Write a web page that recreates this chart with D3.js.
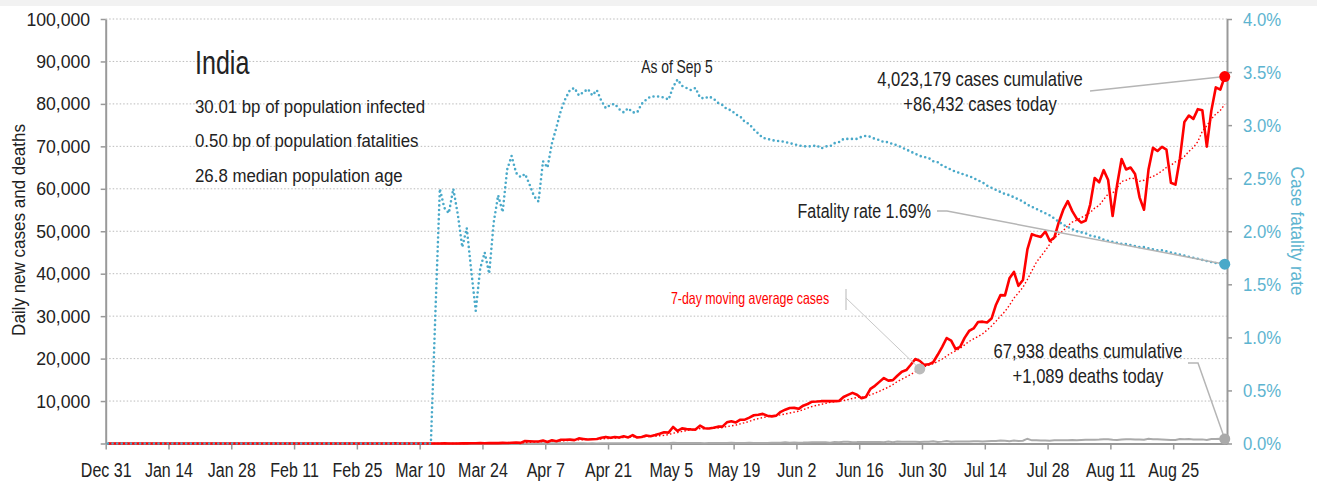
<!DOCTYPE html>
<html>
<head>
<meta charset="utf-8">
<script src="https://cdn.jsdelivr.net/npm/d3@7"></script>
<style>
  body { margin: 0; background: #fff; }
  svg text { font-family: "Liberation Sans", Arial, sans-serif; }
</style>
</head>
<body>
<svg id="chart"></svg>
<script>
// daily series, one value per day starting Dec 31 2019, ending Sep 5 2020
const startDay = "2019-12-31";

const cases = [
  0,
  // Jan
  0,0,0,0,0,0,0,0,0,0, 0,0,0,0,0,0,0,0,0,0, 0,0,0,0,0,0,0,0,0,1, 0,
  // Feb
  0,1,1,0,0,0,0,0,0,0, 0,0,0,0,0,0,0,0,0,0, 0,0,0,0,0,0,0,0,0,
  // Mar
  0,2,1,22,2,1,3,5,9,15, 8,10,13,8,23,8,15,14,28,22, 76,74,86,75,99,88,88,149,106,165, 227,
  // Apr
  146,601,545,478,472,693,354,773,549,896, 896,909,796,1211,1076,941,1007,1076,1334,1553,
  1336,1540,1409,1684,1429,1990,1396,1543,1897,1718,
  // May
  1993,2293,2644,2553,3900,2958,3561,3390,3320,3277, 4213,3604,3525,3722,3967,3970,4987,5242,4970,5611,
  5609,6088,6654,6767,6977,6535,6387,6566,7466,7964, 8380,
  // Jun
  8392,8171,8909,9304,9851,9887,9971,9983,9987,9985, 9996,10956,11458,11929,11502,10667,10974,12881,13586,14516,
  15413,14821,14933,15968,16922,17296,18552,19906,19459,18522,
  // Jul
  18653,19148,20903,22771,24850,24248,22252,22752,24879,26506, 27114,28637,28701,28498,29429,32695,34956,34884,38902,40425,
  37148,38500,45720,49310,48916,48661,49931,47703,48513,52123, 55079,
  // Aug
  57118,54735,52972,52050,52509,56282,62538,61537,64399,62064, 53601,60963,66999,64553,65002,63490,57982,55079,64531,69652,
  68898,69878,69239,61408,60975,67151,75760,77266,76472,78761, 78512,
  // Sep
  69921,78357,83883,83341,86432
];

const deaths = [
  0,
  // Jan
  0,0,0,0,0,0,0,0,0,0, 0,0,0,0,0,0,0,0,0,0, 0,0,0,0,0,0,0,0,0,0, 0,
  // Feb
  0,0,0,0,0,0,0,0,0,0, 0,0,0,0,0,0,0,0,0,0, 0,0,0,0,0,0,0,0,0,
  // Mar
  0,0,0,0,0,0,0,0,0,0, 0,0,1,1,0,0,1,0,1,1, 0,3,2,1,1,4,4,2,6,5, 3,
  // Apr
  3,12,18,17,6,32,26,35,33,40, 34,35,31,51,39,26,36,27,31,36, 45,44,37,57,61,47,48,57,51,70,
  // May
  69,83,83,71,195,126,103,89,95,128, 97,87,122,134,100,103,120,157,134,140, 132,148,137,147,146,146,170,194,175,265, 193,
  // Jun
  230,204,217,260,273,287,294,266,206,331, 279,396,386,311,325,380,340,336,334,375, 306,445,312,465,418,384,407,410,380,418,
  // Jul
  434,507,379,442,613,425,467,482,487,475, 519,551,500,553,582,606,687,671,543,681, 587,648,1129,740,757,705,708,654,768,775, 779,
  // Aug
  764,853,771,803,857,904,886,933,1007,1007, 871,834,942,1007,996,944,941,876,1092,977, 983,945,912,836,848,1059,1021,1057,948,948, 971,
  // Sep
  819,1045,1043,1096,1089
];

// case fatality rate, percent
const cfr = [
  0,
  // Jan
  0,0,0,0,0,0,0,0,0,0, 0,0,0,0,0,0,0,0,0,0, 0,0,0,0,0,0,0,0,0,0, 0,
  // Feb
  0,0,0,0,0,0,0,0,0,0, 0,0,0,0,0,0,0,0,0,0, 0,0,0,0,0,0,0,0,0,
  // Mar
  0,0,0,0,0,0,0,0,0,0, 0,0,1.22,2.40,2.22,2.17,2.40,2.16,1.85,2.03, 1.63,1.25,1.65,1.80,1.60,2.08,2.34,2.18,2.58,2.71, 2.55,
  // Apr
  2.51,2.54,2.44,2.33,2.28,2.66,2.60,2.83,2.98,3.14, 3.25,3.33,3.35,3.28,3.31,3.34,3.28,3.33,3.23,3.16,
  3.19,3.20,3.15,3.12,3.16,3.12,3.12,3.20,3.24,3.27,
  // May
  3.27,3.27,3.26,3.24,3.36,3.43,3.37,3.35,3.33,3.35, 3.26,3.25,3.27,3.25,3.21,3.19,3.15,3.14,3.10,3.08,
  3.03,3.01,2.96,2.92,2.88,2.87,2.86,2.85,2.85,2.84, 2.83,
  // Jun
  2.82,2.81,2.80,2.80,2.80,2.81,2.78,2.80,2.80,2.83, 2.84,2.87,2.87,2.87,2.87,2.89,2.90,2.89,2.87,2.86,
  2.84,2.84,2.82,2.81,2.79,2.77,2.75,2.73,2.71,2.70,
  // Jul
  2.69,2.66,2.65,2.62,2.60,2.58,2.56,2.55,2.53,2.52, 2.50,2.48,2.46,2.43,2.41,2.39,2.37,2.35,2.34,2.32,
  2.30,2.28,2.25,2.23,2.21,2.19,2.17,2.15,2.12,2.09, 2.06,
  // Aug
  2.04,2.02,2.00,1.99,1.98,1.96,1.95,1.94,1.92,1.91, 1.90,1.89,1.88,1.88,1.87,1.86,1.85,1.85,1.84,1.83,
  1.82,1.82,1.81,1.80,1.79,1.78,1.77,1.76,1.75,1.74, 1.73,
  // Sep
  1.72,1.71,1.70,1.70,1.69
];

const xTickDays = ["2019-12-31","2020-01-14","2020-01-28","2020-02-11","2020-02-25","2020-03-10",
  "2020-03-24","2020-04-07","2020-04-21","2020-05-05","2020-05-19","2020-06-02","2020-06-16",
  "2020-06-30","2020-07-14","2020-07-28","2020-08-11","2020-08-25"];
const leftTicks = [0,10000,20000,30000,40000,50000,60000,70000,80000,90000,100000];
const rightTicks = [0,0.5,1,1.5,2,2.5,3,3.5,4];

const statLines = ["30.01 bp of population infected", "0.50 bp of population fatalities", "26.8 median population age"];

const width = 1317, height = 485;
const marginLeft = 105.7, plotRight = 1227, plotTop = 19, plotBottom = 443.5;
const red = "#ff0000", teal = "#49a9c9", tealText = "#5db4d0", gray = "#999";

const parse = d3.utcParse("%Y-%m-%d");
const day0 = parse(startDay);
// each daily value sits at midday of its date
const dates = cases.map((_, i) => new Date(+d3.utcDay.offset(day0, i) + 12 * 3600e3));
const lastDay = d3.utcDay.offset(day0, cases.length);

// 7-day trailing average of daily cases
const ma7 = cases.map((_, i) => d3.mean(cases.slice(Math.max(0, i - 6), i + 1)));

const x = d3.scaleUtc().domain([day0, lastDay]).range([marginLeft, plotRight]);
const yL = d3.scaleLinear().domain([0, 100000]).range([plotBottom, plotTop]);
const yR = d3.scaleLinear().domain([0, 4]).range([plotBottom, plotTop]);

const svg = d3.select("#chart")
  .attr("width", width)
  .attr("height", height)
  .attr("viewBox", [0, 0, width, height]);

svg.append("rect").attr("width", width).attr("height", height).attr("fill", "#fff");
svg.append("rect").attr("width", width).attr("height", 6).attr("fill", "#f2f2f2");

// gridlines
svg.append("g")
  .selectAll("line")
  .data(leftTicks.slice(1))
  .join("line")
    .attr("x1", marginLeft).attr("x2", plotRight)
    .attr("y1", d => yL(d)).attr("y2", d => yL(d))
    .attr("stroke", "#bbb")
    .attr("stroke-width", 1)
    .attr("stroke-dasharray", "1.5,2");

const styleAxis = g => {
  g.select(".domain").attr("stroke", gray).attr("stroke-width", 2);
  g.selectAll(".tick line").attr("stroke", gray).attr("stroke-width", 1.5);
};

// squeeze tick labels horizontally so they look like a condensed face
const condenseTicks = (g, sx, size, fill) => g.selectAll(".tick text")
  .attr("fill", fill)
  .style("font-size", size + "px")
  .attr("x", function() { return +d3.select(this).attr("x") / sx; })
  .attr("transform", `scale(${sx},1)`);

// left axis
svg.append("g")
  .attr("transform", `translate(${marginLeft},0)`)
  .call(d3.axisLeft(yL).tickValues(leftTicks).tickSize(5).tickSizeOuter(0).tickPadding(10.5)
    .tickFormat(d => d ? d3.format(",")(d) : ""))
  .call(styleAxis)
  .call(g => condenseTicks(g, 0.93, 19, "#222"));

// right axis
svg.append("g")
  .attr("transform", `translate(${plotRight},0)`)
  .call(d3.axisRight(yR).tickValues(rightTicks).tickSize(5).tickSizeOuter(0).tickPadding(11)
    .tickFormat(d => d.toFixed(1) + "%"))
  .call(styleAxis)
  .call(g => condenseTicks(g, 0.88, 19, tealText));

// bottom axis
svg.append("g")
  .attr("transform", `translate(0,${plotBottom})`)
  .call(d3.axisBottom(x).tickValues(xTickDays.map(parse)).tickSize(6).tickSizeOuter(0).tickPadding(13.5)
    .tickFormat(d3.utcFormat("%b %-d")))
  .call(styleAxis)
  .call(g => condenseTicks(g, 0.8, 20, "#222"));

// axis titles
svg.append("text")
  .attr("transform", `translate(25,230) rotate(-90) scale(0.92,1)`)
  .attr("text-anchor", "middle")
  .attr("fill", "#222")
  .style("font-size", "18.5px")
  .text("Daily new cases and deaths");

svg.append("text")
  .attr("transform", `translate(1291,231) rotate(90) scale(0.93,1)`)
  .attr("text-anchor", "middle")
  .attr("fill", tealText)
  .style("font-size", "18.5px")
  .text("Case fatality rate");

const I = d3.range(cases.length);

// deaths
svg.append("path")
  .attr("fill", "none")
  .attr("stroke", "#aaa")
  .attr("stroke-width", 2)
  .attr("d", d3.line().x(i => x(dates[i])).y(i => yL(deaths[i]))(I));

// 7-day average
svg.append("path")
  .attr("fill", "none")
  .attr("stroke", red)
  .attr("stroke-width", 1.4)
  .attr("stroke-dasharray", "1.5,2.2")
  .attr("d", d3.line().x(i => x(dates[i])).y(i => yL(ma7[i]))(I));

// daily cases
svg.append("path")
  .attr("fill", "none")
  .attr("stroke", red)
  .attr("stroke-width", 2.6)
  .attr("stroke-linejoin", "round")
  .attr("d", d3.line().x(i => x(dates[i])).y(i => yL(cases[i]))(I));

// fatality rate
svg.append("path")
  .attr("fill", "none")
  .attr("stroke", teal)
  .attr("stroke-width", 2.6)
  .attr("stroke-linecap", "round")
  .attr("stroke-dasharray", "0,4.6")
  .attr("d", d3.line().x(i => x(dates[i])).y(i => yR(cfr[i]))(I));

// annotations
const last = cases.length - 1;
const maIdx = dates.findIndex(d => d3.utcFormat("%Y-%m-%d")(d) === "2020-06-29");

const note = (tx, ty, str, opts = {}) => svg.append("text")
  .attr("transform", `translate(${tx},${ty}) scale(${opts.sx || 0.83},1)`)
  .attr("text-anchor", opts.anchor || "start")
  .attr("fill", opts.fill || "#222")
  .style("font-size", (opts.size || 20) + "px")
  .text(str);

note(195, 74, "India", {size: 33, sx: 0.76});
statLines.forEach((s, k) => note(195, 113 + k * 34.3, s, {size: 18.5, sx: 0.91}));
note(677, 73, "As of Sep 5", {anchor: "middle", size: 18, sx: 0.77});

note(980, 86, "4,023,179 cases cumulative", {anchor: "middle"});
note(980, 111, "+86,432 cases today", {anchor: "middle"});
note(931, 218, "Fatality rate 1.69%", {anchor: "end", sx: 0.8});
note(1088, 358, "67,938 deaths cumulative", {anchor: "middle"});
note(1088, 383, "+1,089 deaths today", {anchor: "middle"});
note(750, 303.5, "7-day moving average cases", {anchor: "middle", size: 16.5, sx: 0.75, fill: red});

const leader = (pts, color, w) => svg.append("path")
  .attr("fill", "none").attr("stroke", color).attr("stroke-width", w)
  .attr("d", d3.line()(pts));

leader([[1090, 91], [x(dates[last]), yL(cases[last])]], "#b5b5b5", 1.5);
leader([[937, 211], [947, 211], [x(dates[last]), yR(cfr[last])]], "#b5b5b5", 1.5);
leader([[1188, 363], [1198, 363], [x(dates[last]), yL(deaths[last])]], "#b5b5b5", 1.5);
leader([[846, 289], [846, 310]], "#cfcfcf", 1.5);
leader([[846, 298], [x(dates[maIdx]), yL(ma7[maIdx])]], "#c8c8c8", 1);

const dot = (cx, cy, color) => svg.append("circle")
  .attr("cx", cx).attr("cy", cy).attr("r", 5.5).attr("fill", color);

dot(x(dates[last]), yL(cases[last]), red);
dot(x(dates[last]), yR(cfr[last]), teal);
dot(x(dates[last]), yL(deaths[last]), "#aaa");
dot(x(dates[maIdx]), yL(ma7[maIdx]), "#bbb");
</script>
</body>
</html>
